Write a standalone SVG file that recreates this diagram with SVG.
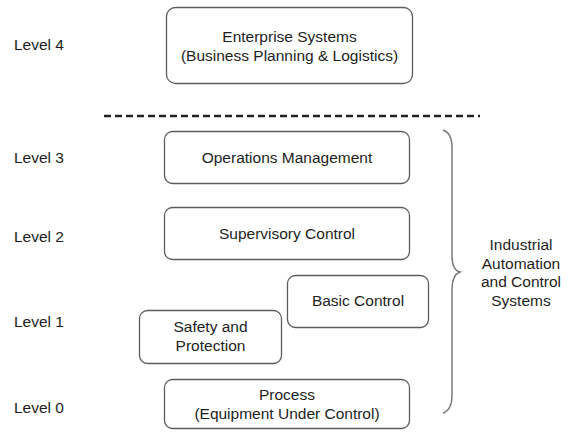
<svg xmlns="http://www.w3.org/2000/svg" width="569" height="433" viewBox="0 0 569 433">
  <style>
    .box { fill: #ffffff; stroke: #5c5c5c; stroke-width: 1.3; }
    .txt { font-family: "Liberation Sans", Arial, sans-serif; font-size: 15.5px; fill: #1e1e1e; }
    .mid { text-anchor: middle; }
    .divider { stroke: #222222; stroke-width: 2.4; stroke-dasharray: 7 4; fill: none; }
    .brace { stroke: #7a7a7a; stroke-width: 1.5; fill: none; }
  </style>
  <rect width="569" height="433" fill="#ffffff"/>

  <!-- level labels -->
  <g id="level-labels" class="txt">
    <text x="14" y="50">Level 4</text>
    <text x="14" y="163">Level 3</text>
    <text x="14" y="242">Level 2</text>
    <text x="14" y="327">Level 1</text>
    <text x="14" y="413">Level 0</text>
  </g>

  <g id="enterprise-systems">
    <rect class="box" x="166.5" y="7.5" width="246" height="76" rx="9"/>
    <text class="txt mid" x="289.5" y="42">Enterprise Systems</text>
    <text class="txt mid" x="289.5" y="61">(Business Planning &amp; Logistics)</text>
  </g>

  <g id="operations-management">
    <rect class="box" x="164.5" y="131.5" width="245" height="52" rx="8"/>
    <text class="txt mid" x="287" y="163">Operations Management</text>
  </g>

  <g id="supervisory-control">
    <rect class="box" x="164.5" y="207.5" width="245" height="52" rx="8"/>
    <text class="txt mid" x="287" y="239">Supervisory Control</text>
  </g>

  <g id="basic-control">
    <rect class="box" x="287.5" y="275.5" width="141" height="52" rx="8"/>
    <text class="txt mid" x="358" y="306">Basic Control</text>
  </g>

  <g id="safety-protection">
    <rect class="box" x="139.5" y="310.5" width="142" height="53" rx="8"/>
    <text class="txt mid" x="210.5" y="332">Safety and</text>
    <text class="txt mid" x="210.5" y="351">Protection</text>
  </g>

  <g id="process">
    <rect class="box" x="164.5" y="379.5" width="245" height="49" rx="8"/>
    <text class="txt mid" x="287" y="400">Process</text>
    <text class="txt mid" x="287" y="419">(Equipment Under Control)</text>
  </g>

  <g id="connectors">
    <!-- boundary between enterprise and control zones -->
    <line class="divider" x1="104" y1="116" x2="480" y2="116"/>
    <!-- brace grouping levels 0 to 3 -->
    <path class="brace" d="M443,130 Q452,133 452,148 L452,256 Q452,270 460,272 Q452,275 452,289 L452,395 Q452,410 443,413"/>
  </g>

  <g id="iacs-label" class="txt mid">
    <text x="521" y="250">Industrial</text>
    <text x="521" y="268.5">Automation</text>
    <text x="521" y="287">and Control</text>
    <text x="521" y="305.5">Systems</text>
  </g>
</svg>
